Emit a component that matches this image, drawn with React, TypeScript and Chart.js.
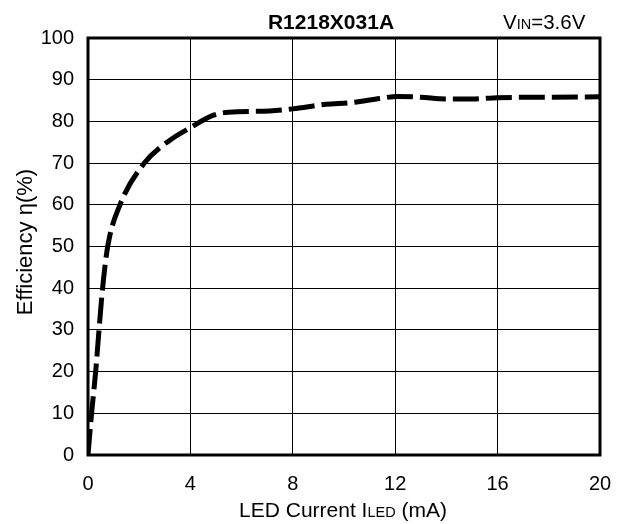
import React, { useEffect, useRef } from "react";
import { Chart, registerables } from "chart.js";

Chart.register(...registerables);

const currentMA = [0, 0.14, 0.3, 0.43, 0.57, 0.77, 1.25, 2.2, 3.2, 4.0, 4.9, 5.5, 7.1, 8.0, 9.3, 10.3, 11.4, 12.1, 13.0, 14.0, 15.0, 16.0, 18.0, 20.0];
const efficiency = [0, 10, 20, 30, 40, 50, 60, 70, 75.5, 78.5, 81.5, 82.2, 82.5, 83.0, 84.1, 84.5, 85.5, 86.0, 85.8, 85.4, 85.4, 85.7, 85.8, 85.9];
const xTicks = [0, 4, 8, 12, 16, 20];
const yTicks = [0, 10, 20, 30, 40, 50, 60, 70, 80, 90, 100];
const titleText = "R1218X031A";
const FONT = '"Liberation Sans", Arial, sans-serif';

const textPlugin = {
  id: "texts",
  afterDraw(chart: any) {
    const ctx = chart.ctx;
    const { left, right, top, bottom } = chart.chartArea;
    ctx.save();
    // frame
    ctx.strokeStyle = "#000";
    ctx.lineWidth = 3;
    ctx.strokeRect(left, top, right - left, bottom - top);
    ctx.fillStyle = "#000";
    ctx.textBaseline = "alphabetic";
    // title
    ctx.font = `bold 21px ${FONT}`;
    ctx.textAlign = "center";
    ctx.fillText(titleText, 331, 29);
    // VIN=3.6V
    ctx.textAlign = "left";
    let x = 503;
    ctx.font = `20.5px ${FONT}`;
    ctx.fillText("V", x, 29);
    x += ctx.measureText("V").width;
    ctx.font = `14.5px ${FONT}`;
    ctx.fillText("IN", x, 29);
    x += ctx.measureText("IN").width;
    ctx.font = `20.5px ${FONT}`;
    ctx.fillText("=3.6V", x, 29);
    // x axis title
    const parts: [string, number][] = [["LED Current I", 21], ["LED", 14.5], [" (mA)", 21]];
    let total = 0;
    for (const [t, s] of parts) {
      ctx.font = `${s}px ${FONT}`;
      total += ctx.measureText(t).width;
    }
    x = 343 - total / 2;
    for (const [t, s] of parts) {
      ctx.font = `${s}px ${FONT}`;
      ctx.fillText(t, x, 517);
      x += ctx.measureText(t).width;
    }
    // y axis title
    ctx.translate(32, 242);
    ctx.rotate(-Math.PI / 2);
    ctx.font = `22px ${FONT}`;
    ctx.textAlign = "center";
    ctx.fillText("Efficiency η(%)", 0, 0);
    ctx.restore();
  },
};

export default function App() {
  const ref = useRef<HTMLCanvasElement | null>(null);
  useEffect(() => {
    if (!ref.current) return;
    const chart = new Chart(ref.current, {
      type: "scatter",
      data: {
        datasets: [
          {
            data: currentMA.map((v, i) => ({ x: v, y: efficiency[i] })),
            showLine: true,
            borderColor: "#000",
            borderWidth: 5,
            borderDash: [26, 7],
            pointRadius: 0,
            cubicInterpolationMode: "monotone",
            fill: false,
          } as any,
        ],
      },
      options: {
        animation: false,
        responsive: false,
        devicePixelRatio: 1,
        layout: { padding: { left: 0, top: 38, right: 20, bottom: 0 } },
        plugins: { legend: { display: false }, tooltip: { enabled: false }, title: { display: false } },
        scales: {
          x: {
            type: "linear",
            min: 0,
            max: 20,
            afterFit: (s: any) => { s.height = 69; s.paddingLeft = 0; s.paddingRight = 0; },
            afterBuildTicks: (s: any) => { s.ticks = xTicks.map((v) => ({ value: v })); },
            grid: { color: "#000", lineWidth: 1, drawTicks: false },
            border: { display: false },
            ticks: { color: "#000", font: { family: FONT, size: 20 }, padding: 17, maxRotation: 0 },
          },
          y: {
            type: "linear",
            min: 0,
            max: 100,
            afterFit: (s: any) => { s.width = 88; s.paddingTop = 0; s.paddingBottom = 0; },
            afterBuildTicks: (s: any) => { s.ticks = yTicks.map((v) => ({ value: v })); },
            grid: { color: "#000", lineWidth: 1, drawTicks: false },
            border: { display: false },
            ticks: { color: "#000", font: { family: FONT, size: 20 }, padding: 14 },
          },
        },
      },
      plugins: [textPlugin],
    });
    return () => chart.destroy();
  }, []);
  return (
    <div style={{ position: "absolute", left: 0, top: 0, width: 620, height: 524, background: "#fff" }}>
      <canvas ref={ref} width={620} height={524} style={{ width: 620, height: 524 }} />
    </div>
  );
}
